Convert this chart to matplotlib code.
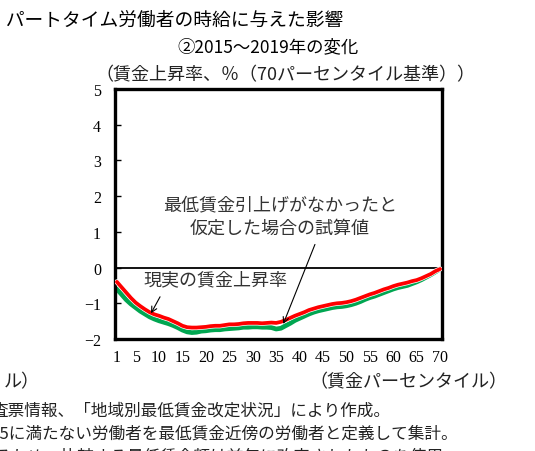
import matplotlib
matplotlib.use("Agg")
import matplotlib.pyplot as plt
import matplotlib.patheffects as pe

plt.rcParams['font.family'] = ['Noto Sans CJK JP', 'DejaVu Sans']

# percentile 1..70
percentiles = list(range(1, 71))
tick_labels = [1, 5, 10, 15, 20, 25, 30, 35, 40, 45, 50, 55, 60, 65, 70]

# 現実の賃金上昇率 (red)
actual = [-0.40, -0.55, -0.70, -0.85, -0.98, -1.08, -1.17, -1.25, -1.31, -1.35,
          -1.40, -1.44, -1.50, -1.56, -1.63, -1.67, -1.68, -1.68, -1.67, -1.66,
          -1.64, -1.63, -1.63, -1.61, -1.59, -1.59, -1.58, -1.56, -1.55, -1.55,
          -1.55, -1.56, -1.55, -1.54, -1.55, -1.52, -1.47, -1.41, -1.35, -1.30,
          -1.25, -1.19, -1.15, -1.11, -1.08, -1.05, -1.02, -1.00, -0.99, -0.97,
          -0.94, -0.90, -0.85, -0.80, -0.75, -0.71, -0.66, -0.61, -0.57, -0.52,
          -0.48, -0.45, -0.42, -0.38, -0.35, -0.30, -0.24, -0.18, -0.10, -0.04]

# 最低賃金引上げがなかったと仮定した場合の試算値 (green)
counterfactual = [-0.60, -0.75, -0.90, -1.02, -1.12, -1.22, -1.30, -1.38, -1.44, -1.49,
                  -1.53, -1.57, -1.62, -1.68, -1.75, -1.80, -1.82, -1.81, -1.78, -1.77,
                  -1.75, -1.74, -1.74, -1.72, -1.71, -1.70, -1.69, -1.67, -1.67, -1.66,
                  -1.66, -1.67, -1.67, -1.68, -1.72, -1.70, -1.63, -1.56, -1.48, -1.42,
                  -1.36, -1.30, -1.25, -1.21, -1.18, -1.15, -1.12, -1.10, -1.09, -1.07,
                  -1.04, -1.00, -0.95, -0.89, -0.84, -0.80, -0.75, -0.70, -0.65, -0.60,
                  -0.56, -0.53, -0.50, -0.45, -0.40, -0.34, -0.27, -0.20, -0.12, -0.04]

W, H = 535, 452
fig = plt.figure(figsize=(W / 100, H / 100), dpi=100)


def fx(x):
    return x / W


def fy(y):
    return 1 - y / H


serif = ['Liberation Serif', 'Noto Sans CJK JP']
jp = ['Noto Sans CJK JP', 'DejaVu Sans']

ax = fig.add_axes([fx(115), fy(340), fx(442) - fx(115), fy(90) - fy(340)])
ax.plot(percentiles, counterfactual, color='#00a651', lw=3.4, solid_capstyle='round', zorder=2)
ax.plot(percentiles, actual, color='#ff0000', lw=2.7, solid_capstyle='round', zorder=3,
        path_effects=[pe.Stroke(linewidth=3.7, foreground='white'), pe.Normal()])
ax.axhline(0, color='black', lw=1.3, zorder=1)

ax.set_xlim(0.6, 70.4)
ax.set_ylim(-2, 5)
ax.set_yticks(range(-2, 6))
ax.set_yticklabels([str(v).replace('-', '−') for v in range(-2, 6)], family=serif, fontsize=11.5)
ax.set_xticks(tick_labels)
ax.set_xticklabels([str(v) for v in tick_labels], family=serif, fontsize=11.5)
ax.tick_params(axis='y', direction='in', length=4, width=1, pad=10)
ax.tick_params(axis='x', length=0, pad=7)
for s in ax.spines.values():
    s.set_linewidth(2.4)

# annotations
ax.annotate('', xy=(36.3, -1.65), xytext=(43.5, 0.72),
            arrowprops=dict(arrowstyle='->', color='black', lw=0.8))
ax.annotate('', xy=(8.0, -1.35), xytext=(10.5, -0.75),
            arrowprops=dict(arrowstyle='->', color='black', lw=0.8))
fig.text(fx(280), fy(205), '最低賃金引上げがなかったと', ha='center', va='center',
         fontsize=13, family=jp, color='#333333')
fig.text(fx(280), fy(229), '仮定した場合の試算値', ha='center', va='center',
         fontsize=13, family=jp, color='#333333')
fig.text(fx(143), fy(280), '現実の賃金上昇率', ha='left', va='center',
         fontsize=13, family=jp, color='#333333')

# titles and labels
fig.text(fx(-12), fy(20), '・パートタイム労働者の時給に与えた影響', ha='left', va='center',
         fontsize=13.5, family=jp)
fig.text(fx(268), fy(47), '②2015～2019年の変化', ha='center', va='center',
         fontsize=12.5, family=jp)
fig.text(fx(3), fy(75), '）', ha='right', va='center', fontsize=13, family=jp)
fig.text(fx(285), fy(75), '（賃金上昇率、％（70パーセンタイル基準））', ha='center', va='center',
         fontsize=13, family=jp, color='#222222')
fig.text(fx(507), fy(382), '（賃金パーセンタイル）', ha='right', va='center',
         fontsize=13, family=jp, color='#222222')
fig.text(fx(40), fy(382), 'ル）', ha='right', va='center', fontsize=13, family=jp, color='#222222')

# footnotes (clipped at the left/bottom edge)
fig.text(fx(-9), fy(411), '査票情報、「地域別最低賃金改定状況」により作成。', ha='left', va='center',
         fontsize=12, family=jp, color='#222222')
fig.text(fx(-23), fy(434), '1.15に満たない労働者を最低賃金近傍の労働者と定義して集計。', ha='left',
         va='center', fontsize=12, family=jp, color='#222222')
fig.text(fx(-6), fy(457), 'るため、比較する最低賃金額は前年に改定されたものを使用', ha='left',
         va='center', fontsize=12, family=jp, color='#222222')

fig.savefig('out.png', dpi=100)
